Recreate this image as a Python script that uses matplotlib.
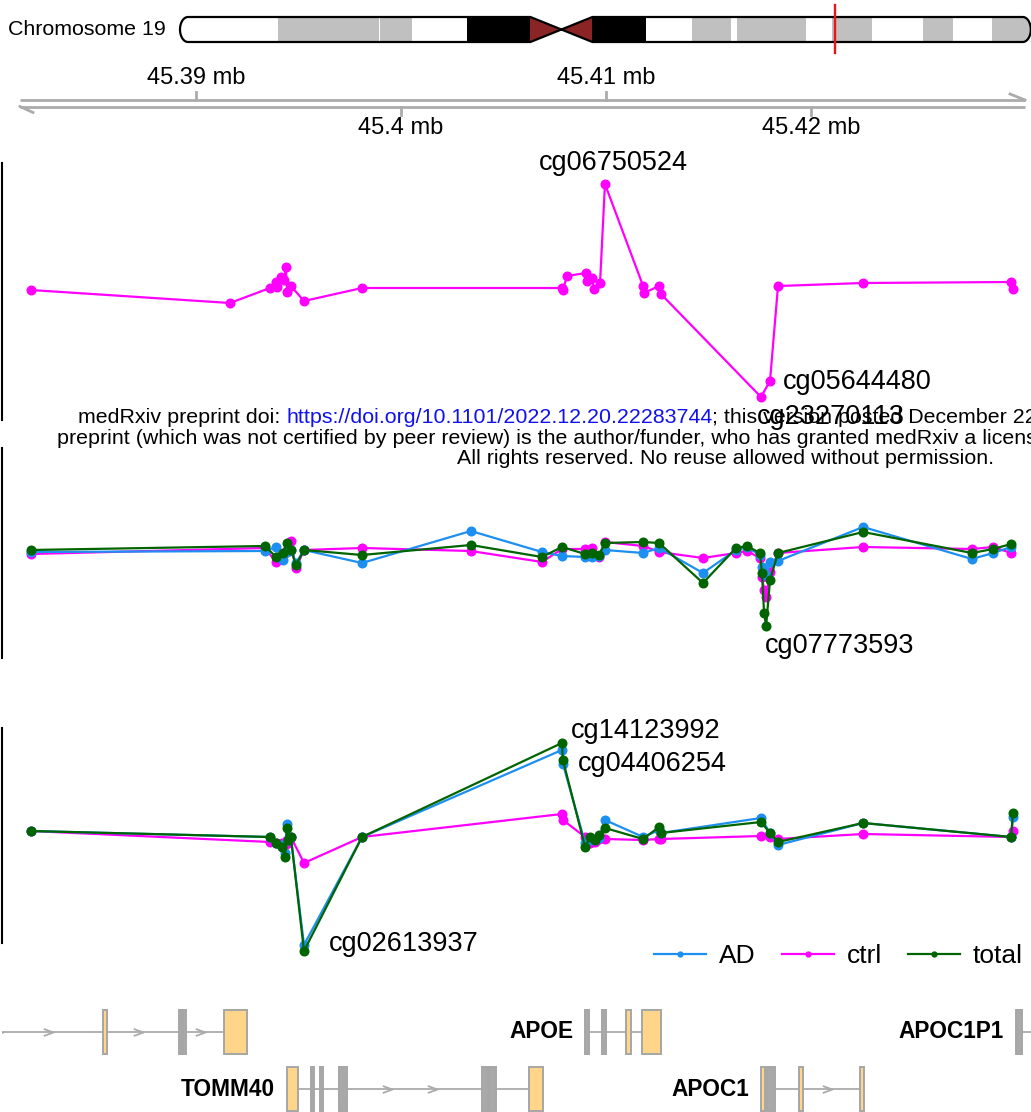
import numpy as np
import matplotlib
matplotlib.use("Agg")
import matplotlib.pyplot as plt
from matplotlib.lines import Line2D
from matplotlib.patches import Rectangle, Polygon
from matplotlib.path import Path

plt.rcParams["font.family"] = ["Liberation Sans", "DejaVu Sans"]

W, H = 1031, 1112

# ---- ideogram of chr19 (Mb) ----
CHROM = "Chromosome 19"
CHR_LEN = 59.0
CEN = (24.3, 28.6)
BAND_START = [0.0, 6.8, 13.8, 13.9, 16.1, 19.9, 28.6, 32.3, 35.5, 38.2, 38.6, 43.4, 45.2, 48.0, 51.5, 53.6, 56.3]
BAND_END = [6.8, 13.8, 13.9, 16.1, 19.9, 24.3, 32.3, 35.5, 38.2, 38.6, 43.4, 45.2, 48.0, 51.5, 53.6, 56.3, 59.0]
BAND_STAIN = ["gneg", "gpos", "gneg", "gpos", "gneg", "gvar", "gvar", "gneg", "gpos", "gneg",
              "gpos", "gneg", "gpos", "gneg", "gpos", "gneg", "gpos"]
STAIN_COL = {"gneg": "white", "gpos": "#C0C0C0", "gvar": "black"}

# ---- plotted region (kb) ----
XLIM = (45380.54, 45430.73)
AXIS_TICKS = [45390, 45400, 45410, 45420]

# ---- panel 1: ctrl only ----
P1_POS = [45381.95, 45391.66, 45393.61, 45393.90, 45393.95, 45394.15, 45394.29, 45394.39, 45394.44,
          45394.63, 45395.27, 45398.10, 45407.85, 45407.90, 45408.10, 45409.02, 45409.07, 45409.32,
          45409.41, 45409.71, 45409.95, 45411.81, 45411.85, 45412.59, 45412.68, 45417.56, 45418.00,
          45418.39, 45422.54, 45429.76, 45429.85]
P1_CTRL = [1.30, 1.17, 1.32, 1.38, 1.33, 1.43, 1.40, 1.53, 1.28, 1.34, 1.19, 1.32, 1.32, 1.30, 1.44,
           1.47, 1.39, 1.42, 1.31, 1.37, 2.36, 1.34, 1.27, 1.34, 1.26, 0.23, 0.39, 1.34, 1.37, 1.38, 1.31]

# ---- panel 2 ----
P2_POS = [45381.95, 45393.37, 45393.90, 45394.24, 45394.44, 45394.63, 45394.88, 45395.27, 45398.10,
          45403.41, 45406.88, 45407.85, 45408.98, 45409.32, 45409.66, 45409.95, 45411.81, 45412.59,
          45414.73, 45416.34, 45416.88, 45417.51, 45417.61, 45417.71, 45417.81, 45418.00, 45418.39,
          45422.54, 45427.85, 45428.88, 45429.76]
P2_AD = [1.06, 1.07, 1.11, 0.98, 1.06, 1.08, 0.95, 1.08, 0.95, 1.27, 1.06, 1.02, 1.01, 1.01, 1.02, 1.08,
         1.05, 1.10, 0.85, 1.08, 1.11, 1.03, 0.91, 0.88, 0.83, 0.96, 0.97, 1.31, 0.99, 1.05, 1.11]
P2_CTRL = [1.04, 1.10, 0.96, 1.02, 1.08, 1.17, 0.90, 1.08, 1.10, 1.07, 0.96, 1.09, 1.09, 1.10, 1.01, 1.16,
           1.12, 1.06, 1.00, 1.05, 1.07, 1.00, 0.81, 0.68, 0.61, 0.86, 1.05, 1.11, 1.09, 1.11, 1.05]
P2_TOTAL = [1.08, 1.12, 1.01, 1.05, 1.15, 1.08, 0.93, 1.08, 1.03, 1.13, 1.01, 1.11, 1.04, 1.05, 1.03, 1.15,
            1.16, 1.15, 0.75, 1.10, 1.12, 1.05, 0.85, 0.45, 0.32, 0.78, 1.05, 1.26, 1.05, 1.09, 1.14]

# ---- panel 3 ----
P3_POS = [45381.95, 45393.61, 45393.90, 45394.20, 45394.34, 45394.44, 45394.49, 45394.63, 45395.27,
          45398.10, 45407.85, 45407.90, 45408.98, 45409.22, 45409.46, 45409.66, 45409.95, 45411.81,
          45412.59, 45412.68, 45417.56, 45418.00, 45418.39, 45422.54, 45429.76, 45429.85]
P3_AD = [1.12, 1.06, 1.00, 0.98, 0.90, 1.19, 1.03, 1.06, -0.02, 1.06, 1.93, 1.79, 1.00, 1.03, 1.03, 1.05,
         1.23, 1.06, 1.13, 1.10, 1.25, 1.10, 0.98, 1.20, 1.06, 1.26]
P3_CTRL = [1.12, 1.01, 1.00, 1.00, 0.98, 1.03, 1.00, 1.06, 0.80, 1.06, 1.29, 1.23, 1.06, 1.00, 1.01, 1.04,
           1.04, 1.03, 1.04, 1.04, 1.07, 1.06, 1.04, 1.09, 1.06, 1.12]
P3_TOTAL = [1.12, 1.06, 1.00, 0.96, 0.86, 1.15, 1.03, 1.06, -0.08, 1.06, 2.00, 1.83, 0.96, 1.06, 1.03, 1.08,
            1.15, 1.04, 1.16, 1.10, 1.21, 1.10, 1.01, 1.20, 1.06, 1.30]

# labelled probes: (panel, probe, position, value)
PROBE_PANEL = [1, 1, 1, 2, 3, 3, 3]
PROBE_NAME = ["cg06750524", "cg05644480", "cg23270113", "cg07773593", "cg14123992", "cg04406254", "cg02613937"]
PROBE_POS = [45409.95, 45418.00, 45417.56, 45417.81, 45407.85, 45407.90, 45395.27]
PROBE_VAL = [2.36, 0.39, 0.23, 0.32, 2.00, 1.83, -0.08]

GROUPS = ["AD", "ctrl", "total"]
COLORS = {"AD": "#1C8FF0", "ctrl": "#FF00FF", "total": "#006400"}

# ---- genes (kb) ----
GENE_NAME = ["NECTIN2", "TOMM40", "APOE", "APOC1", "APOC1P1"]
GENE_ROW = [0, 1, 0, 1, 0]
GENE_START = [45349.00, 45394.44, 45408.98, 45417.56, 45430.00]
GENE_END = [45392.49, 45406.93, 45412.68, 45422.59, 45431.20]
GENE_EXONS = [
    [(45385.46, 45385.66, "c"), (45389.16, 45389.32, "n"), (45389.35, 45389.51, "n"), (45391.37, 45392.49, "c")],
    [(45394.44, 45394.98, "c"), (45395.61, 45395.76, "n"), (45396.05, 45396.20, "n"), (45396.98, 45397.37, "n"),
     (45403.95, 45404.24, "n"), (45404.29, 45404.63, "n"), (45406.24, 45406.93, "c")],
    [(45408.98, 45409.17, "n"), (45409.81, 45410.00, "n"), (45410.98, 45411.22, "c"), (45411.76, 45412.68, "c")],
    [(45417.56, 45417.76, "c"), (45417.85, 45418.24, "n"), (45419.42, 45419.61, "c"), (45422.39, 45422.59, "c")],
    [(45430.00, 45430.29, "n")],
]
EXON_COL = {"c": "#FFD58A", "n": "#A9A9A9"}
GREY = "#ABABAB"

fig = plt.figure(figsize=(W / 100, H / 100), dpi=100)
KB_PX = (XLIM[1] - XLIM[0]) / (W - 2)


def px_axes(top, bottom, left=2, right=W):
    ax = fig.add_axes([left / W, 1 - bottom / H, (right - left) / W, (bottom - top) / H])
    ax.set_axis_off()
    return ax


# ---------------- ideogram ----------------
ax = px_axes(0, 60, 0, W)
mb_px = 14.42
ax.set_xlim(-180 / mb_px, (W - 180) / mb_px)
ax.set_ylim(60, 0)
y0, y1, yc, ry, rx = 17, 42, 29.5, 12.5, 8 / mb_px
t = np.linspace(0, np.pi, 30)
cmid = (CEN[0] + CEN[1]) / 2
verts = list(zip(rx - rx * np.sin(t), yc - ry * np.cos(t)))
verts += [(CEN[0], y1), (cmid, yc), (CEN[1], y1)]
verts += list(zip(CHR_LEN - rx + rx * np.sin(t), yc + ry * np.cos(t)))
verts += [(CEN[1], y0), (cmid, yc), (CEN[0], y0)]
clip = Polygon(verts, closed=True, fc="none", ec="none")
ax.add_patch(clip)
for s, e, st in zip(BAND_START, BAND_END, BAND_STAIN):
    r = Rectangle((s, y0), e - s, y1 - y0, fc=STAIN_COL[st], ec="none")
    ax.add_patch(r)
    r.set_clip_path(clip)
r = Rectangle((CEN[0], y0), CEN[1] - CEN[0], y1 - y0, fc="#8B2525", ec="none")
ax.add_patch(r)
r.set_clip_path(clip)
# thin white separators between adjacent grey bands
ax.add_patch(Polygon(verts, closed=True, fc="none", ec="black", lw=1.6, zorder=3))
reg_mb = (XLIM[0] + XLIM[1]) / 2 / 1000
ax.plot([reg_mb, reg_mb], [5, 53], color="#E8161B", lw=1.7, zorder=4)
ax.text(-172 / mb_px, yc, CHROM, ha="left", va="center", fontsize=15.4)

# ---------------- genome axis ----------------
ax = px_axes(55, 145)
ax.set_xlim(XLIM)
ax.set_ylim(145, 55)
xa, xb = XLIM[0] + 18 * KB_PX, XLIM[1] - 6 * KB_PX
ya, yb = 100, 106.5
ax.plot([xa, xb], [ya, ya], color=GREY, lw=2, solid_capstyle="butt")
ax.plot([xa, xb], [yb, yb], color=GREY, lw=2, solid_capstyle="butt")
ax.plot([xb - 15 * KB_PX, xb], [ya - 6, ya], color=GREY, lw=2)
ax.plot([xa, xa + 13 * KB_PX], [yb, yb + 6], color=GREY, lw=2)
for i, tk in enumerate(AXIS_TICKS):
    lab = f"{tk / 1000:g} mb"
    if i % 2 == 0:
        ax.plot([tk, tk], [ya - 8, ya], color=GREY, lw=2)
        ax.text(tk, 78, lab, ha="center", va="center", fontsize=17)
    else:
        ax.plot([tk, tk], [yb, yb + 8], color=GREY, lw=2)
        ax.text(tk, 128, lab, ha="center", va="center", fontsize=17)

# ---------------- data panels ----------------
panels = [
    (163, 420, 2.57, P1_POS, {"ctrl": P1_CTRL}),
    (448, 658, 2.10, P2_POS, {"ctrl": P2_CTRL, "AD": P2_AD, "total": P2_TOTAL}),
    (728, 943, 2.15, P3_POS, {"ctrl": P3_CTRL, "AD": P3_AD, "total": P3_TOTAL}),
]
label_off = {
    "cg06750524": (5.8, 15.0, "center"),
    "cg05644480": (9.4, -0.5, "left"),
    "cg23270113": (-2.9, -14.5, "left"),
    "cg07773593": (-0.7, -14.5, "left"),
    "cg14123992": (6.5, 8.5, "left"),
    "cg04406254": (10.8, -3.0, "left"),
    "cg02613937": (18.0, 5.0, "left"),
}
panel_axes = []
for top, bot, ymax, pos, series in panels:
    ax = fig.add_axes([2 / W, 1 - bot / H, (W - 2) / W, (bot - top) / H])
    ax.set_xlim(XLIM)
    ax.set_ylim(0, ymax)
    for sp in ["top", "right", "bottom"]:
        ax.spines[sp].set_visible(False)
    ax.spines["left"].set_linewidth(1.5)
    ax.set_xticks([])
    ax.set_yticks([])
    ax.patch.set_alpha(0)
    for g in ["ctrl", "AD", "total"]:
        if g in series:
            ax.plot(pos, series[g], color=COLORS[g], lw=1.6, marker="o", ms=6.2, clip_on=False)
    panel_axes.append(ax)

for pn, name, p, v in zip(PROBE_PANEL, PROBE_NAME, PROBE_POS, PROBE_VAL):
    dx, dy, ha = label_off[name]
    panel_axes[pn - 1].annotate(name, (p, v), xytext=(dx, dy), textcoords="offset points",
                                ha=ha, va="center", fontsize=19.5, annotation_clip=False)

handles = [Line2D([], [], color=COLORS[g], lw=1.6, marker="o", ms=3.5) for g in GROUPS]
fig.legend(handles, GROUPS, loc="center right", bbox_to_anchor=(1023 / W, 1 - 956 / H),
           ncol=3, frameon=False, fontsize=19, handlelength=1.95, handletextpad=0.5,
           columnspacing=1.0, borderpad=0, borderaxespad=0)

# ---------------- gene track ----------------
ax = px_axes(1003.5, 1117.5)
ax.set_xlim(XLIM)
ax.set_ylim(1.5, -0.5)
half = 22 / 57
chev = Path([(-1, 0.36), (0, 0), (-1, -0.36)], [Path.MOVETO, Path.LINETO, Path.LINETO])
for name, row, gs, ge, exons in zip(GENE_NAME, GENE_ROW, GENE_START, GENE_END, GENE_EXONS):
    ax.plot([gs, ge], [row, row], color=GREY, lw=1.3, zorder=1)
    edges = [gs] + [c for ex in exons for c in ex[:2]] + [ge]
    for a, b in zip(edges[0::2], edges[1::2]):
        gap = (b - a) / KB_PX
        if gap > 35:
            n = max(1, int(gap / 50))
            xs = [a + (b - a) * k / (n + 1) for k in range(1, n + 1)]
            ax.plot(xs, [row] * len(xs), ls="none", marker=chev, ms=14, mfc="none",
                    mec=GREY, mew=1.3, zorder=2)
    for s, e, kind in exons:
        ax.add_patch(Rectangle((s, row - half), e - s, 2 * half, fc=EXON_COL[kind],
                               ec="#A6A6A6", lw=1.4, zorder=3))
    if gs > XLIM[0]:
        ax.annotate(name, (gs, row), xytext=(-8.6, 0), textcoords="offset points",
                    ha="right", va="center", fontsize=16.3, fontweight="bold")

# ---------------- medRxiv watermark ----------------
renderer = fig.canvas.get_renderer()


def chain(x, y, parts):
    for txt, col in parts:
        t_ = fig.text(x / W, 1 - y / H, txt, color=col, fontsize=15.4, va="baseline", ha="left")
        bb = t_.get_window_extent(renderer)
        x = x + bb.width


chain(78, 423, [("medRxiv preprint doi: ", "black"),
                ("https://doi.org/10.1101/2022.12.20.22283744", "#1010F0"),
                ("; this version posted December 22, 2022. The copyright holder for this", "black")])
chain(57, 443.5, [("preprint (which was not certified by peer review) is the author/funder, who has granted medRxiv a license to display the preprint in perpetuity.", "black")])
chain(457, 464, [("All rights reserved. No reuse allowed without permission.", "black")])

fig.savefig("out.png", dpi=100)
